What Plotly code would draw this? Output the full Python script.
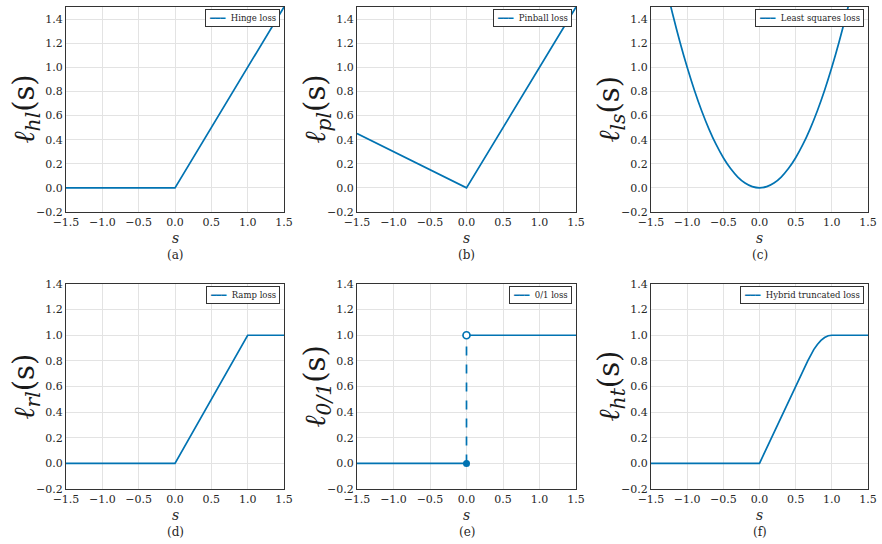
import plotly.graph_objects as go

# ---------------- data ----------------
hinge_s = [-1.5, 0.0, 1.5]
hinge_y = [0.0, 0.0, 1.5]

pinball_s = [-1.5, 0.0, 1.5]
pinball_y = [0.45, 0.0, 1.5]

ls_s = [-1.5, -1.4, -1.3, -1.2, -1.1, -1.0, -0.9, -0.8, -0.7, -0.6, -0.5, -0.4, -0.3, -0.2, -0.1,
        0.0, 0.1, 0.2, 0.3, 0.4, 0.5, 0.6, 0.7, 0.8, 0.9, 1.0, 1.1, 1.2, 1.3, 1.4, 1.5]
ls_y = [2.25, 1.96, 1.69, 1.44, 1.21, 1.0, 0.81, 0.64, 0.49, 0.36, 0.25, 0.16, 0.09, 0.04, 0.01,
        0.0, 0.01, 0.04, 0.09, 0.16, 0.25, 0.36, 0.49, 0.64, 0.81, 1.0, 1.21, 1.44, 1.69, 1.96, 2.25]

ramp_s = [-1.5, 0.0, 1.0, 1.5]
ramp_y = [0.0, 0.0, 1.0, 1.0]

zo_left_s = [-1.5, 0.0]
zo_left_y = [0.0, 0.0]
zo_right_s = [0.0, 1.5]
zo_right_y = [1.0, 1.0]
zo_jump_s = [0.0, 0.0]
zo_jump_y = [0.0, 1.0]

ht_s = [-1.5, 0.0, 0.667, 0.7, 0.75, 0.8, 0.85, 0.9, 0.95, 1.0, 1.5]
ht_y = [0.0, 0.0, 0.8, 0.838, 0.888, 0.928, 0.96, 0.982, 0.996, 1.0, 1.0]

legend_names = ["Hinge loss", "Pinball loss", "Least squares loss",
                "Ramp loss", "0/1 loss", "Hybrid truncated loss"]
ylabels = ["hl", "pl", "ls", "rl", "0/1", "ht"]
captions = ["(a)", "(b)", "(c)", "(d)", "(e)", "(f)"]
x_ticks = [-1.5, -1.0, -0.5, 0.0, 0.5, 1.0, 1.5]
y_ticks = [-0.2, 0.0, 0.2, 0.4, 0.6, 0.8, 1.0, 1.2, 1.4]

# ---------------- layout geometry ----------------
W, H = 882, 544
BLUE = "#0173b2"
FONT = "DejaVu Serif"
xpix = [(66, 284), (357, 576), (651, 868)]
ypix = [(7, 212), (284, 489)]

fig = go.Figure()

def ax_name(i):
    return "" if i == 0 else str(i + 1)

def line(i, x, y, name=None, dash="solid", shape="linear"):
    fig.add_trace(go.Scatter(
        x=x, y=y, mode="lines", name=name, showlegend=False,
        line=dict(color=BLUE, width=1.7, dash=dash, shape=shape),
        xaxis="x" + ax_name(i), yaxis="y" + ax_name(i), cliponaxis=True))

line(0, hinge_s, hinge_y, legend_names[0])
line(1, pinball_s, pinball_y, legend_names[1])
line(2, ls_s, ls_y, legend_names[2], shape="spline")
line(3, ramp_s, ramp_y, legend_names[3])
line(4, zo_left_s, zo_left_y, legend_names[4])
line(4, zo_right_s, zo_right_y, legend_names[4])
line(4, zo_jump_s, zo_jump_y, legend_names[4], dash="dash")
fig.add_trace(go.Scatter(x=[zo_left_s[-1]], y=[zo_left_y[-1]], mode="markers", showlegend=False,
                         marker=dict(color=BLUE, size=7), xaxis="x5", yaxis="y5"))
fig.add_trace(go.Scatter(x=[zo_right_s[0]], y=[zo_right_y[0]], mode="markers", showlegend=False,
                         marker=dict(color="white", size=7, line=dict(color=BLUE, width=1.7)),
                         xaxis="x5", yaxis="y5"))
line(5, ht_s, ht_y, legend_names[5])

layout = dict(width=W, height=H, margin=dict(l=0, r=0, t=0, b=0, pad=0, autoexpand=False),
              plot_bgcolor="white", paper_bgcolor="white", showlegend=False,
              font=dict(family=FONT, size=11, color="#262626"))
annotations = []
for i in range(6):
    r, c = divmod(i, 3)
    x0, x1 = xpix[c]
    y0, y1 = ypix[r]
    n = ax_name(i)
    common = dict(showgrid=True, gridcolor="#e3e3e3", gridwidth=1, zeroline=False,
                  showline=True, linecolor="#333333", linewidth=1.1, mirror=True,
                  ticks="", automargin=False,
                  tickfont=dict(family=FONT, size=11, color="#262626"))
    layout["xaxis" + n] = dict(domain=[x0 / W, x1 / W], range=[-1.5, 1.5], tickvals=x_ticks,
                               tickformat=".1f", anchor="y" + n, **common)
    yr = [-0.2, 1.5] if r == 0 else [-0.2, 1.4]
    layout["yaxis" + n] = dict(domain=[1 - y1 / H, 1 - y0 / H], range=yr, tickvals=y_ticks,
                               tickformat=".1f", anchor="x" + n, **common)
    # legend box (line sample + label) in the top-right corner
    annotations.append(dict(
        text='<span style="color:%s">━━━</span>  %s' % (BLUE, legend_names[i]),
        x=(x1 - 4) / W, y=1 - (y0 + 2) / H, xref="paper", yref="paper",
        xanchor="right", yanchor="top", showarrow=False, align="left",
        bgcolor="white", bordercolor="#333333", borderwidth=1, borderpad=3,
        font=dict(family=FONT, size=8.5, color="#262626")))
    cx = (x0 + x1) / 2
    annotations.append(dict(text="<i>s</i>", x=cx / W, y=1 - (y1 + 26) / H, xref="paper", yref="paper",
                            showarrow=False, font=dict(family=FONT, size=14, color="#262626"),
                            xanchor="center", yanchor="middle"))
    annotations.append(dict(text=captions[i], x=cx / W, y=1 - (y1 + 43) / H, xref="paper", yref="paper",
                            showarrow=False, font=dict(family=FONT, size=12, color="#262626"),
                            xanchor="center", yanchor="middle"))
    annotations.append(dict(text="<i>ℓ</i><sub><i>" + ylabels[i] + "</i></sub>(s)",
                            x=(x0 - 41) / W, y=1 - ((y0 + y1) / 2) / H, xref="paper", yref="paper",
                            showarrow=False, textangle=-90,
                            font=dict(family=FONT, size=29, color="#1a1a1a"),
                            xanchor="center", yanchor="middle"))
layout["annotations"] = annotations
fig.update_layout(**layout)
fig.write_html("out.html")
